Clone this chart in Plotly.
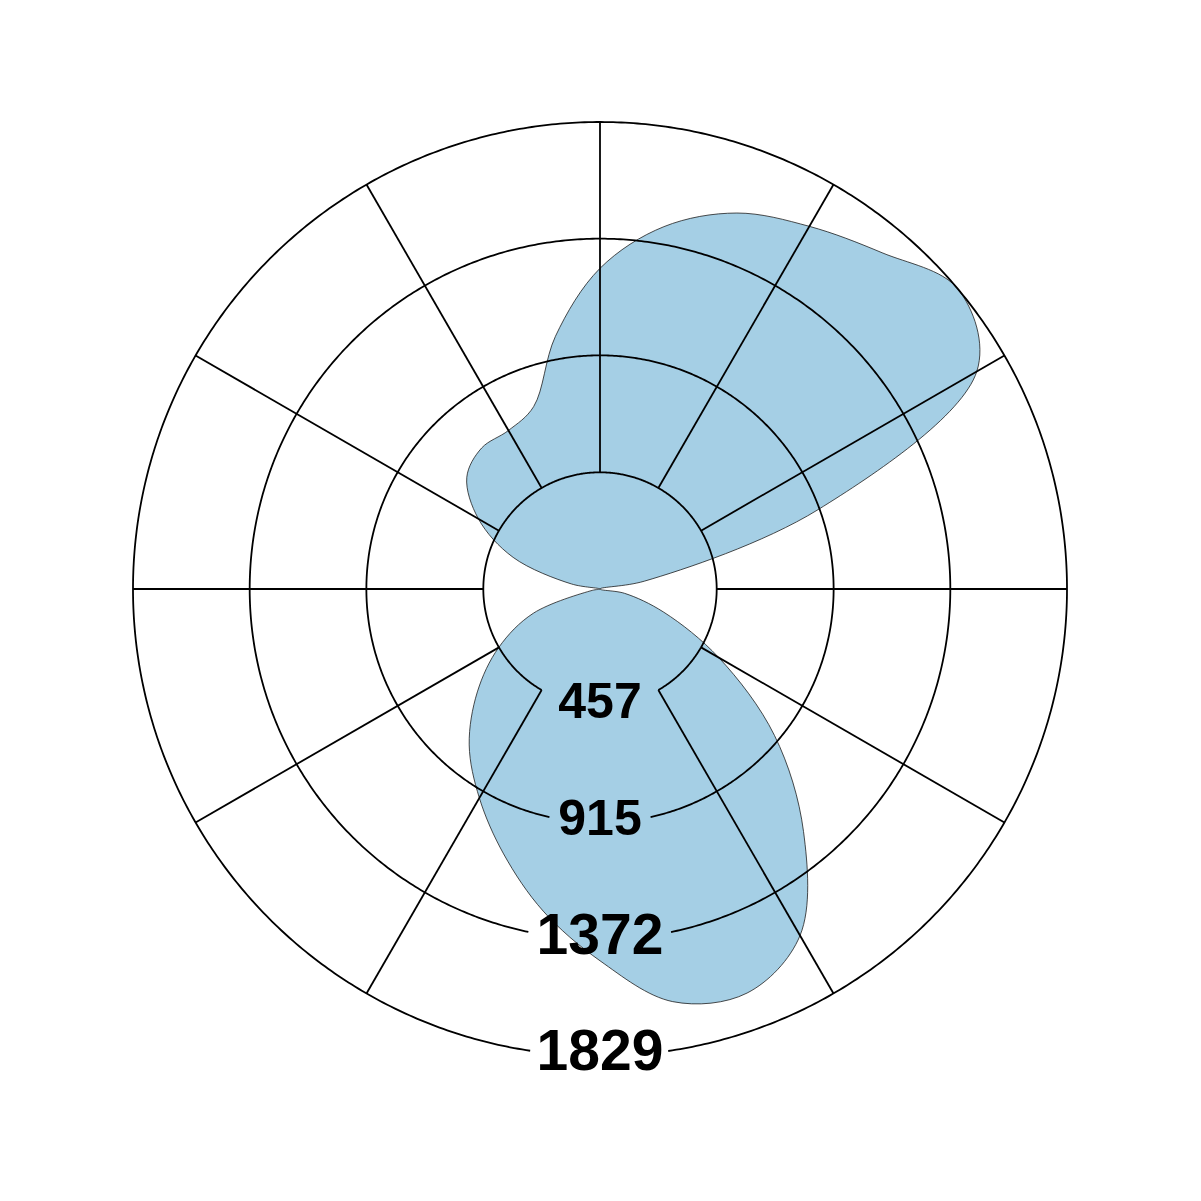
"""
polar area plot with a smoothed closed outline and custom grid on top
"""
import numpy as np
import plotly.graph_objects as go

# values, direction in degrees (counterclockwise from east)
directions = [0, 10, 20, 30, 40, 50, 60, 70, 80, 90, 100, 110,
              120, 130, 140, 150, 160, 170, 180, 190, 200, 210, 220, 230,
              240, 250, 260, 270, 280, 290, 300, 310, 320, 330, 340, 350]
values = [0, 176, 909, 1704, 1829, 1719, 1640, 1567, 1441, 1256, 1005, 760,
          717, 721, 681, 550, 362, 113, 0, 31, 278, 458, 627, 797,
          945, 1104, 1281, 1456, 1641, 1684, 1567, 1240, 892, 537, 266, 98]

tick_values = [457, 915, 1372, 1829]
tick_labels = ["457", "915", "1372", "1829"]
label_sizes = [50, 50, 57, 57]
# half width (degrees) of the break in each ring around its label
ring_gaps = [30, 12.5, 11.7, 8.4]
spoke_angles = [0, 30, 60, 90, 120, 150, 180, 210, 240, 300, 330]

r_max = 1850
fill_color = "#a5cfe5"
grid_color = "#000000"

fig = go.Figure()

# close the outline on the first point so the spline is drawn as a closed curve
fig.add_trace(go.Scatterpolar(r=values + values[:1], theta=directions + directions[:1],
                              mode="lines", fill="toself", fillcolor=fill_color,
                              line=dict(color="#1e1e1e", width=0.8, shape="spline",
                                        smoothing=1),
                              hoverinfo="skip", showlegend=False))

# rings, broken at the bottom where the labels sit
for tick, gap in zip(tick_values, ring_gaps):
    ring_theta = np.arange(270 + gap, 630 - gap + 0.01, 0.5)
    fig.add_trace(go.Scatterpolar(r=[tick] * len(ring_theta), theta=ring_theta,
                                  mode="lines", line=dict(color=grid_color, width=1.8),
                                  hoverinfo="skip", showlegend=False))

# spokes from the inner ring to the outer ring
for angle in spoke_angles:
    fig.add_trace(go.Scatterpolar(r=[tick_values[0], tick_values[-1]], theta=[angle, angle],
                                  mode="lines", line=dict(color=grid_color, width=1.8),
                                  hoverinfo="skip", showlegend=False))

fig.add_trace(go.Scatterpolar(r=tick_values, theta=[270] * len(tick_values),
                              mode="text", text=tick_labels, textposition="middle center",
                              textfont=dict(family="Liberation Sans, Arial, sans-serif",
                                            size=label_sizes, color="#000000", weight="bold"),
                              cliponaxis=False, hoverinfo="skip", showlegend=False))

# outer ring (r = 1829) sits at 467 px from the centre (600, 589) of the page;
# the page body adds an 8 px margin, so the plot's own centre is 8 px up-left
size = 1201
outer_px = 467 * r_max / tick_values[-1]
cx, cy = 600 - 8, size - (589 - 8)

fig.update_layout(
    width=size, height=size,
    margin=dict(l=0, r=0, t=0, b=0),
    paper_bgcolor="#FFFFFF",
    showlegend=False,
    polar=dict(
        domain=dict(x=[(cx - outer_px) / size, (cx + outer_px) / size],
                    y=[(cy - outer_px) / size, (cy + outer_px) / size]),
        bgcolor="#FFFFFF",
        radialaxis=dict(range=[0, r_max], visible=False, showgrid=False),
        angularaxis=dict(visible=False, showgrid=False, rotation=0,
                         direction="counterclockwise"),
    ),
)

fig.write_html("out.html")
